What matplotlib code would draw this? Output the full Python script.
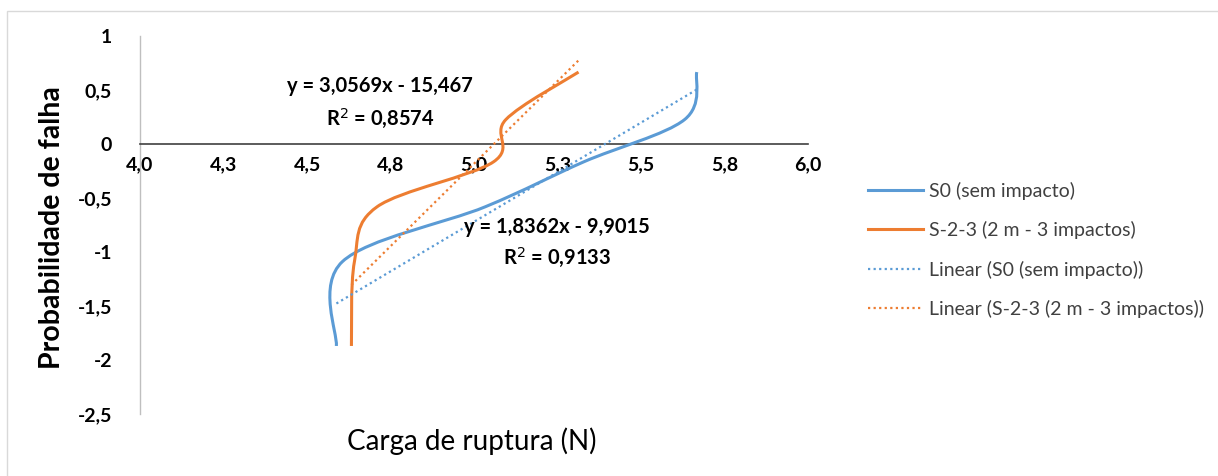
import numpy as np
import matplotlib
matplotlib.use("Agg")
import matplotlib.pyplot as plt
from matplotlib.path import Path
from matplotlib.patches import PathPatch, Rectangle
from matplotlib.lines import Line2D

# ---- data ----
prob_y = [-1.870, -1.089, -0.581, -0.166, 0.225, 0.666]
s0_x = [4.588, 4.606, 5.034, 5.328, 5.630, 5.667]
s23_x = [4.633, 4.642, 4.710, 5.058, 5.095, 5.313]
s0_slope, s0_icpt, s0_r2 = 1.8362, -9.9015, 0.9133
s23_slope, s23_icpt, s23_r2 = 3.0569, -15.467, 0.8574
x_ticks = [4.0, 4.25, 4.5, 4.75, 5.0, 5.25, 5.5, 5.75, 6.0]
x_tick_labels = ["4,0", "4,3", "4,5", "4,8", "5,0", "5,3", "5,5", "5,8", "6,0"]
y_ticks = [-2.5, -2.0, -1.5, -1.0, -0.5, 0.0, 0.5, 1.0]
y_tick_labels = ["-2,5", "-2", "-1,5", "-1", "-0,5", "0", "0,5", "1"]
series_names = ["S0 (sem impacto)", "S-2-3 (2 m - 3 impactos)",
                "Linear (S0 (sem impacto))", "Linear (S-2-3 (2 m - 3 impactos))"]

BLUE = "#5B9BD5"
ORANGE = "#ED7D31"
FONT = "Lato"

plt.rcParams['font.family'] = [FONT, 'DejaVu Sans']

fig = plt.figure(figsize=(12.18, 4.76), dpi=100)
W, H = 1218, 476
# outer chart border (top & left visible)
fig.patches.append(Rectangle((7 / W, -0.1), 1.2, (H - 11) / H + 0.1, transform=fig.transFigure,
                             fill=False, edgecolor="#D9D9D9", lw=1.0))

ax = fig.add_axes([140 / W, 1 - 414 / H, (808 - 140) / W, (414 - 36) / H])
ax.set_xlim(4.0, 6.0)
ax.set_ylim(-2.5, 1.0)


def smooth_path(xs, ys):
    pts = np.column_stack([xs, ys]).astype(float)
    n = len(pts)
    verts = [pts[0]]
    codes = [Path.MOVETO]
    for i in range(n - 1):
        p0 = pts[i - 1] if i > 0 else pts[i]
        p1 = pts[i]
        p2 = pts[i + 1]
        p3 = pts[i + 2] if i + 2 < n else pts[i + 1]
        c1 = p1 + (p2 - p0) / 6.0
        c2 = p2 - (p3 - p1) / 6.0
        verts += [c1, c2, p2]
        codes += [Path.CURVE4] * 3
    return Path(verts, codes)


for xs, col in [(s0_x, BLUE), (s23_x, ORANGE)]:
    ax.add_patch(PathPatch(smooth_path(xs, prob_y), fill=False, edgecolor=col,
                           lw=2.2, capstyle='butt', joinstyle='round', zorder=3))

# linear trend lines over each series' x range
for xs, m, b, col in [(s0_x, s0_slope, s0_icpt, BLUE), (s23_x, s23_slope, s23_icpt, ORANGE)]:
    xx = np.array([min(xs), max(xs)])
    ax.plot(xx, m * xx + b, color=col, lw=1.6, ls=(0, (1, 1.5)), zorder=4)

# axes styling
for s in ["top", "right"]:
    ax.spines[s].set_visible(False)
ax.spines["left"].set_color("#BFBFBF")
ax.spines["left"].set_linewidth(1.0)
ax.spines["bottom"].set_position(("data", 0))
ax.spines["bottom"].set_color("#404040")
ax.spines["bottom"].set_linewidth(1.2)
ax.set_xticks(x_ticks)
ax.set_xticklabels(x_tick_labels)
ax.set_yticks(y_ticks)
ax.set_yticklabels(y_tick_labels)
ax.tick_params(axis="x", length=0, pad=9, labelsize=14)
ax.tick_params(axis="y", length=0, pad=20, labelsize=14)
for lab in ax.get_xticklabels() + ax.get_yticklabels():
    lab.set_fontweight("bold")
    lab.set_color("#000000")

fig.text(52 / W, 1 - 228 / H, "Probabilidade de falha", rotation=90, ha="center", va="center",
         fontsize=20.5, fontweight="bold", color="#000000")
fig.text(472 / W, 1 - 441 / H, "Carga de ruptura (N)", ha="center", va="center",
         fontsize=20, color="#000000")


def fmt(v, nd):
    return f"{abs(v):.{nd}f}".replace(".", ",")


eq_s23 = f"y = {fmt(s23_slope, 4)}x - {fmt(s23_icpt, 3)}\nR$^2$ = {fmt(s23_r2, 4)}"
eq_s0 = f"y = {fmt(s0_slope, 4)}x - {fmt(s0_icpt, 4)}\nR$^2$ = {fmt(s0_r2, 4)}"
fig.text(380 / W, 1 - 103 / H, eq_s23, ha="center", va="center", fontsize=14.5,
         fontweight="bold", linespacing=1.5)
fig.text(557 / W, 1 - 243 / H, eq_s0, ha="center", va="center", fontsize=14.5,
         fontweight="bold", linespacing=1.45)

# legend
handles = [Line2D([], [], color=BLUE, lw=2.2),
           Line2D([], [], color=ORANGE, lw=2.2),
           Line2D([], [], color=BLUE, lw=1.6, ls=(0, (1, 1.5))),
           Line2D([], [], color=ORANGE, lw=1.6, ls=(0, (1, 1.5)))]
leg = fig.legend(handles, series_names, loc="upper left", bbox_to_anchor=(858 / W, 1 - 172 / H),
                 frameon=False, fontsize=14, handlelength=2.85, handletextpad=0.3,
                 labelspacing=1.1, borderpad=0)
for t in leg.get_texts():
    t.set_color("#404040")

fig.savefig("out.png", dpi=100)
